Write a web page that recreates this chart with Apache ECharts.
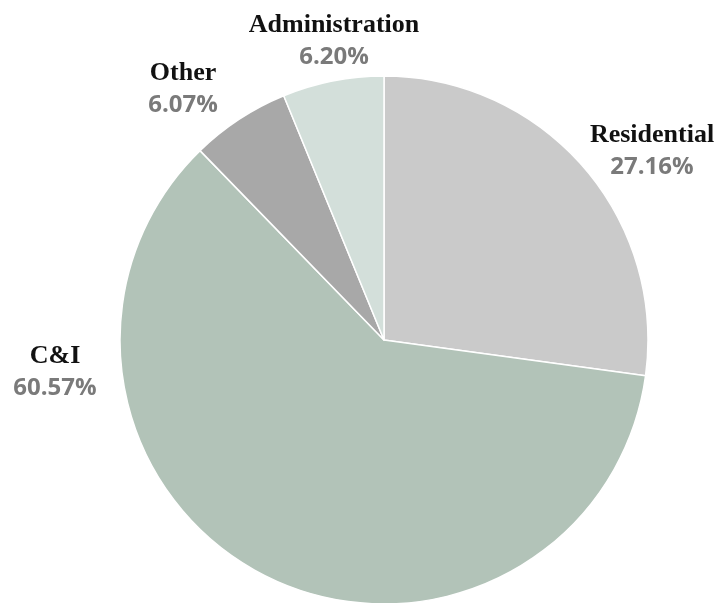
<!DOCTYPE html>
<html>
<head>
<meta charset="utf-8">
<script src="https://cdn.jsdelivr.net/npm/echarts@6/dist/echarts.min.js"></script>
<style>
    html, body { margin: 0; padding: 0; background: #fff; }
    #main { width: 720px; height: 603px; }
</style>
</head>
<body>
<div id="main"></div>
<script>
//--------------------数据---------------------------
var names = ['Residential', 'C&I', 'Other', 'Administration'];
var values = [27.16, 60.57, 6.07, 6.20];
var colors = ['#cacaca', '#b2c3b8', '#a8a8a8', '#d3dfda'];
// 标签中心位置 (仅布局)
var labelPos = [[652, 151], [55, 372], [183, 89], [334, 41]];
//--------------------数据---------------------------

var myChart = echarts.init(document.getElementById('main'));
var pieData = [];
for (var i = 0; i < names.length; i++) {
    pieData.push({ name: names[i], value: values[i], itemStyle: { color: colors[i] } });
}

var option = {
    animation: false,
    series: [
        {
            type: 'pie',
            center: [384, 340],
            radius: 264,
            startAngle: 90,
            clockwise: true,
            data: pieData,
            itemStyle: {
                borderColor: '#fff',
                borderWidth: 1.5
            },
            label: {
                show: true,
                position: 'outside',
                overflow: 'none',
                formatter: function (p) {
                    return '{n|' + p.name + '}\n{v|' + p.value.toFixed(2) + '%}';
                },
                rich: {
                    n: {
                        fontFamily: 'Liberation Serif',
                        fontWeight: 'bold',
                        fontSize: 26,
                        color: '#111',
                        align: 'center',
                        lineHeight: 32
                    },
                    v: {
                        fontFamily: 'Open Sans',
                        fontWeight: 'bold',
                        fontSize: 24,
                        color: '#7a7a7a',
                        align: 'center',
                        lineHeight: 32
                    }
                }
            },
            labelLine: { show: false },
            labelLayout: function (params) {
                var pos = labelPos[params.dataIndex];
                return {
                    x: pos[0],
                    y: pos[1],
                    align: 'center',
                    verticalAlign: 'middle'
                };
            },
            emphasis: { disabled: true }
        }
    ]
};
myChart.setOption(option);
</script>
</body>
</html>
